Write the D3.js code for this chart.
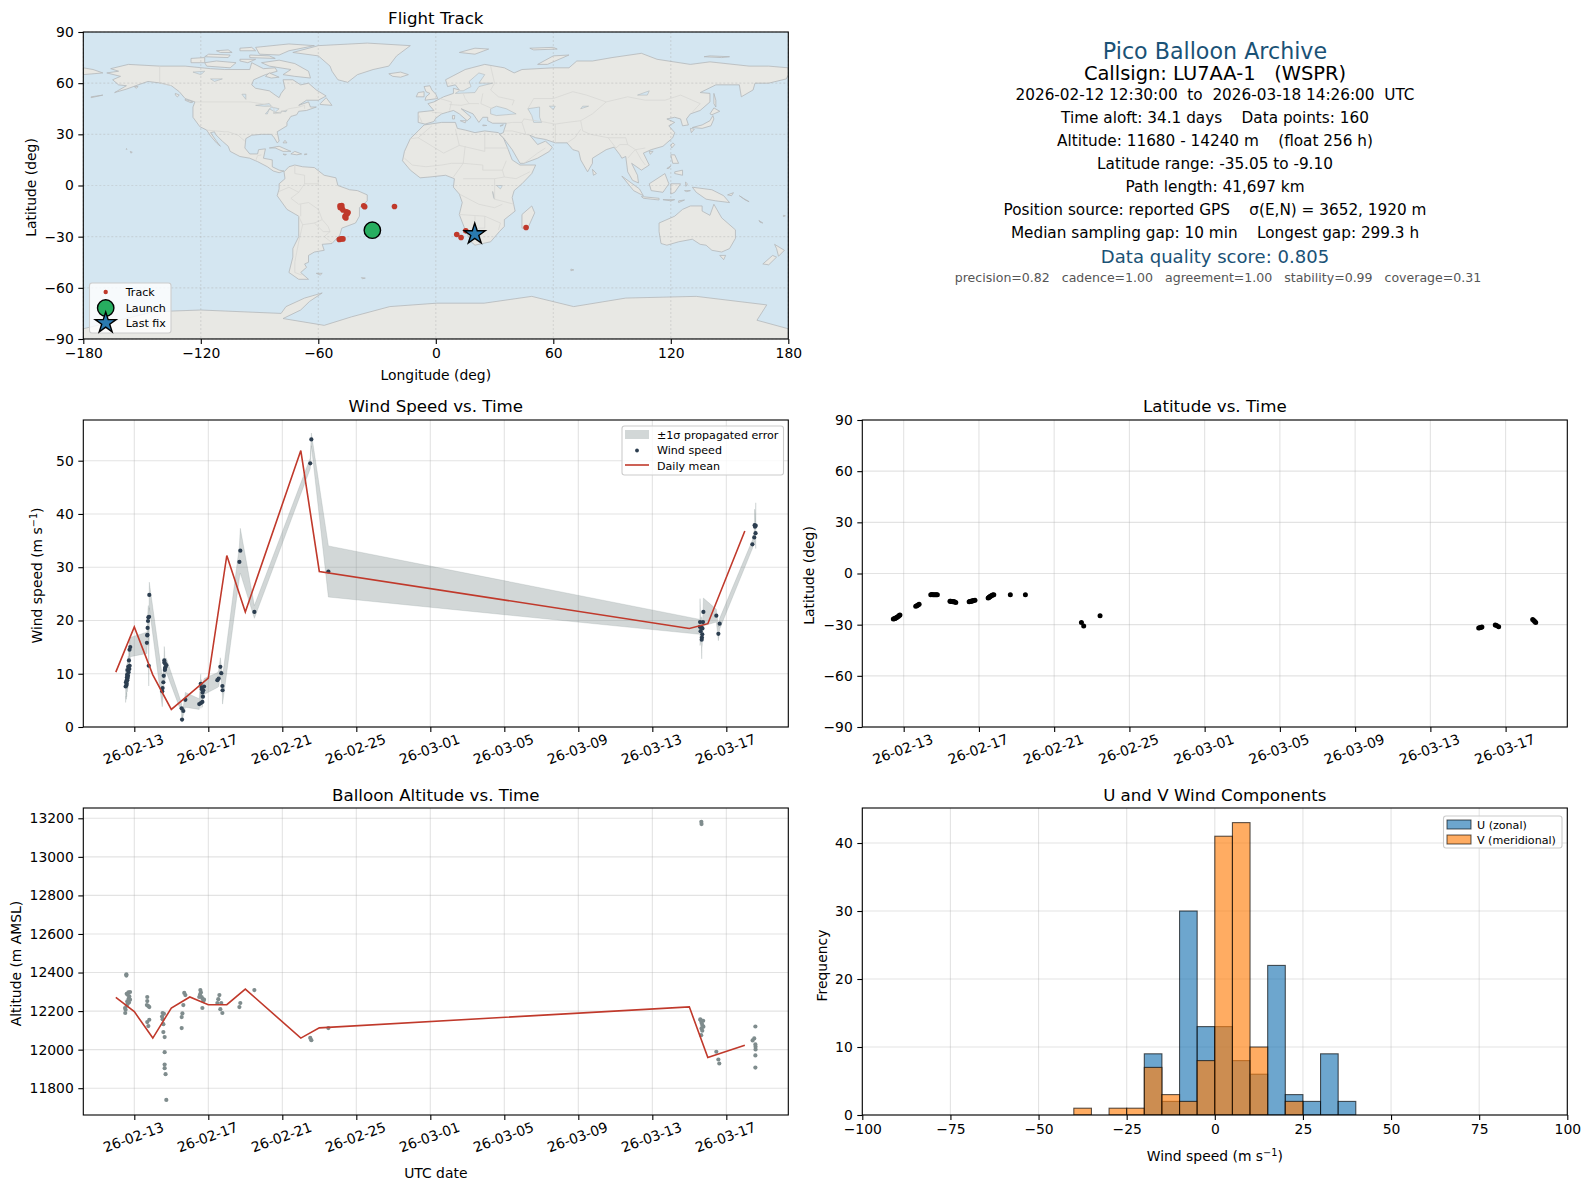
<!DOCTYPE html>
<html><head><meta charset="utf-8">
<script src="https://cdn.jsdelivr.net/npm/d3@7"></script>
<style>html,body{margin:0;padding:0;background:#fff}svg{display:block}text{font-family:"DejaVu Sans",sans-serif;fill:#000}</style>
</head><body><div id="chart"></div>
<script>
// ---------- data ----------
const windDay=[-0.47,-0.45,-0.43,-0.42,-0.41,-0.40,-0.39,-0.38,-0.37,-0.36,-0.34,-0.33,-0.31,-0.29,-0.27,-0.26,-0.25,-0.22,
0.68,0.70,0.71,0.72,0.74,0.76,0.78,0.80,0.81,
1.51,1.53,1.57,1.59,1.62,1.63,1.64,1.65,1.66,1.68,1.73,
2.56,2.58,2.65,2.76,
3.51,3.59,3.60,3.64,3.65,3.68,3.69,3.71,3.73,3.77,
4.49,4.56,4.65,4.70,4.76,4.77,
5.68,5.73,6.49,9.51,9.57,10.49,
30.57,30.58,30.61,30.65,30.67,30.68,30.70,30.71,30.74,30.76,31.46,31.57,31.64,
33.41,33.51,33.53,33.55,33.58,33.59];
const windSpeed=[7.6,8.4,7.8,8.7,8.1,9.3,9.8,8.8,10.7,9.2,9.6,11.3,10.3,12.5,10.9,14.5,11.5,15.0,
15.8,17.2,17.3,18.6,19.9,20.6,11.5,20.7,24.8,
6.7,7.3,8.4,9.6,12.5,12.1,12.0,10.7,10.9,11.2,11.6,
3.5,1.4,3.0,5.1,
4.3,8.1,4.5,7.4,7.1,4.7,6.5,5.7,6.9,7.6,
8.8,9.1,11.3,10.1,7.7,6.9,
31.0,33.1,21.6,49.5,54.0,29.2,
18.8,19.7,18.0,18.7,16.4,16.8,17.4,18.5,19.7,21.6,20.9,17.5,19.4,
34.3,35.6,37.9,37.6,36.4,37.8];
const windSigma=[3,2.6,2.6,2.2,2.4,2,2,2.2,2,2,2,2,2,2,1.8,1.8,1.8,1.8,
2,2,2,2,2,2.2,3.8,2.5,2.4,
2.9,2.5,2,2,2.6,2.4,2.2,2,1.8,1.6,1.3,
0.9,0.5,0.8,1.4,
1,1.8,1,1.5,1.4,1,1.3,1.2,1.5,1.5,
1.4,1.5,1.7,1.5,2,2.6,
3,4.2,1.2,1,1.2,4.8,
1.4,4.4,2,2,3.6,2,2,1.5,1.5,2.6,1.2,1.3,1,
0.8,1,3,3,2,4.3];
const meanDay=[-1,0,1,2,3,4,5,6,9,10,30,31,33];
const meanSpeed=[10.3,18.8,9.8,3.3,6.2,9.2,32.2,21.6,51.9,29.2,18.5,19.4,36.8];
const meanAlt=[12271,12197,12060,12216,12273,12233,12233,12314,12060,12113,12222,11959,12023];
const altDay=[-0.43,-0.43,-0.41,-0.23,-0.32,-0.36,-0.27,-0.31,-0.23,-0.38,-0.29,-0.36,-0.41,-0.47,-0.49,-0.50,
0.70,0.70,0.68,0.76,0.81,0.81,0.70,0.76,
1.53,1.60,1.50,1.53,1.57,1.57,1.64,1.64,1.64,1.64,1.69,1.73,
2.56,2.56,2.60,2.65,2.70,2.76,
3.57,3.60,3.51,3.64,3.69,3.73,3.68,3.55,3.77,
4.60,4.54,4.49,4.70,4.65,4.76,
5.68,5.73,6.49,9.51,9.57,10.49,
30.65,30.66,30.59,30.75,30.66,30.76,30.66,30.70,30.64,30.62,30.70,
31.46,31.57,31.62,
33.57,33.51,33.42,33.57,33.58,33.58,33.57,33.57];
const altMeters=[12391,12384,12290,12299,12297,12285,12276,12264,12259,12250,12245,12238,12228,12207,12190,12216,
12273,12252,12231,12226,12221,12155,12143,12122,
12190,12186,12172,12158,12132,12091,12065,11987,11923,11904,11873,11739,
12112,12169,12188,12231,12294,12283,
12309,12297,12273,12273,12264,12252,12216,12285,12259,
12283,12262,12242,12242,12210,12190,
12221,12242,12309,12061,12049,12112,
13182,13170,12157,12150,12139,12119,12110,12098,12075,12153,12128,
11989,11949,11928,
12120,12058,12048,12027,12015,12001,11970,11907];
const latDay=[-0.55,-0.50,-0.46,-0.42,-0.38,-0.33,-0.28,-0.24,-0.20, 0.64,0.70,0.76,0.82,
1.44,1.50,1.56,1.62,1.68,1.74,1.79, 2.46,2.50,2.54,2.58,2.62,2.66,2.70,2.77, 3.48,3.52,3.56,3.60,3.64,3.68,3.72,3.79,
4.49,4.53,4.56,4.60,4.63,4.70,4.74,4.79, 5.67,6.47,9.45,9.57,10.44,
30.57,30.62,30.68,30.74, 31.45,31.52,31.63, 33.44,33.50,33.55,33.60];
const latDeg=[-26.7,-26.5,-26.4,-26.1,-25.8,-25.5,-25.0,-24.6,-24.3, -19.2,-18.9,-18.4,-18.0,
-12.5,-12.3,-12.4,-12.4,-12.5,-12.4,-12.5, -16.3,-16.3,-16.4,-16.4,-16.5,-16.6,-16.6,-17.0, -16.5,-16.4,-16.3,-16.2,-16.1,-16.0,-15.9,-15.7,
-14.3,-14.0,-13.8,-13.5,-13.2,-12.8,-12.6,-12.4, -12.4,-12.4,-28.8,-30.8,-24.7,
-32.0,-31.8,-31.6,-31.4, -30.2,-30.5,-31.2, -27.0,-27.6,-28.2,-28.8];
const trackLon=[-48.9,-48.5,-48.0,-48.8,-47.9,-47.4,-45.6,-44.8,-45.2,-46.4,-46.1,-45.9,-36.8,-36.3,-21.1,-49.3,-48.8,-48.0,-47.4,10.7,12.9,15.3,46.1];
const trackLat=[-11.9,-12.3,-11.8,-13.0,-13.3,-14.4,-15.4,-15.9,-16.6,-18.4,-17.6,-19.0,-11.9,-12.5,-12.3,-31.7,-31.4,-31.2,-31.3,-28.7,-30.5,-26.6,-24.6];
const launchLon=[-32.4], launchLat=[-26.2], lastLon=[19.9], lastLat=[-28.5];
const binLow=[-40,-35,-30,-25,-20,-15,-10,-5,0,5,10,15,20,25,30,35];
const uCount=[0,0,0,0,9,2,30,13,13,8,6,22,3,2,9,2];
const vCount=[1,0,1,1,7,3,2,8,41,43,10,0,2,0,0,0];
const timeTicks=["2026-02-13","2026-02-17","2026-02-21","2026-02-25","2026-03-01","2026-03-05","2026-03-09","2026-03-13","2026-03-17"];
const lonTicks=[-180,-120,-60,0,60,120,180], latTicks=[-90,-60,-30,0,30,60,90];
const windTicks=[0,10,20,30,40,50], altTicks=[11800,12000,12200,12400,12600,12800,13000,13200];
const histXTicks=[-100,-75,-50,-25,0,25,50,75,100], histYTicks=[0,10,20,30,40];
const infoLines=[
 ["Pico Balloon Archive",58.7,22.2,"#1a5276",1215],["Callsign: LU7AA-1   (WSPR)",80,19.44,"#000",1215],
 ["2026-02-12 12:30:00  to  2026-03-18 14:26:00  UTC",100,15.28,"#000",1215],
 ["Time aloft: 34.1 days    Data points: 160",123,15.28,"#000",1215],
 ["Altitude: 11680 - 14240 m    (float 256 h)",145.7,15.28,"#000",1215],
 ["Latitude range: -35.05 to -9.10",168.7,15.28,"#000",1215],
 ["Path length: 41,697 km",191.7,15.28,"#000",1215],
 ["Position source: reported GPS    σ(E,N) = 3652, 1920 m",215,15.28,"#000",1215],
 ["Median sampling gap: 10 min    Longest gap: 299.3 h",238,15.28,"#000",1215],
 ["Data quality score: 0.805",262.7,18.06,"#1a5276",1215],
 ["precision=0.82   cadence=1.00   agreement=1.00   stability=0.99   coverage=0.31",282.3,12.55,"#555",1218]];
const land=[
[[-168,66],[-162,67],[-166,68.5],[-157,71],[-141,70],[-128,70],[-115,68.5],[-108,68],[-95,68],[-94,72],[-88,68.5],[-82,69],[-81,67],[-87,65],[-93,62],[-94,59],[-92,57],[-85,55.5],[-82,53],[-80,51.5],[-79,54],[-77,57],[-78,62],[-73,62],[-69,59],[-65,60],[-61,56],[-56,52.5],[-60,50],[-66,50],[-70,47],[-65,49],[-64,46],[-61,46],[-66,44],[-70,43.5],[-71,41.5],[-74,40.5],[-76,37],[-76,35],[-81,31.5],[-80,26],[-81,25],[-82.5,28],[-84,30],[-89,30],[-94,29.5],[-97,27.5],[-97.5,22],[-95,18.5],[-91,18.5],[-90.5,21],[-87,21.5],[-88,16],[-83.5,15],[-83.5,11],[-80,9],[-77.5,8.5],[-80,7.5],[-83,8.5],[-86,11],[-91,14],[-95,16],[-100,17],[-105,20],[-106,23],[-109,26],[-112.5,30],[-113,31.5],[-115,31],[-112,26],[-110,23],[-112,25],[-115,29],[-117,32.5],[-120.5,34.5],[-124,40],[-124,46],[-123,49],[-128,51],[-131,55],[-135,58.5],[-140,60],[-147,61],[-152,59],[-158,56.5],[-164,54.5],[-158,58.5],[-162,59],[-165,62],[-161,64]],
[[-73,78],[-60,82],[-35,83.5],[-13,82],[-20,76],[-24,70],[-32,68],[-40,65],[-45,60.5],[-50,62],[-53,67],[-54,70],[-60,76]],
[[-80,73.5],[-72,71.5],[-65,67],[-64,63],[-72,64],[-78,65],[-74,68],[-85,70],[-89,72]],
[[-117,70],[-105,69],[-102,72],[-112,73],[-118,72]],[[-90,77],[-80,76.5],[-75,79],[-62,82],[-75,83],[-92,81]],
[[-125,72],[-118,72],[-118,75],[-125,74.5]],[[-95,75],[-82,74.5],[-85,76],[-95,76.5]],[[-118,75.5],[-106,75],[-105,76.5],[-116,77]],[[-100,73],[-96,72],[-92,74],[-100,74]],
[[-100,79],[-92,79],[-94,81],[-100,80.5]],[[-110,78],[-104,78],[-106,79.5],[-112,79]],[[-85,66],[-80,63.5],[-84,63],[-87,64]],[[-133,54],[-131,53],[-132,52],[-133,53]],[[-128,50.5],[-124,49],[-125,48.5],[-128,50]],
[[-59,48],[-56,51.5],[-53,47],[-59,47.5]],[[-24,65.5],[-18,66.5],[-14,65],[-18,63.5],[-22,64]],
[[-5.5,50],[1,51],[0,53.5],[-2,56],[-3,58.5],[-6,58],[-5,55],[-3,54],[-5,52]],[[-10,52],[-6,52],[-6,55],[-9,54.5]],
[[12,78],[20,80.5],[27,80],[20,77]],[[48,80.5],[60,81],[62,80],[50,79.5]],[[52,71],[57,71],[68,76.5],[60,76]],[[137,75.5],[146,75],[150,75.5],[140,76]],
[[-85,22],[-80,23],[-74,20],[-78,20],[-82,22]],[[-74,18.5],[-72,20],[-68.5,18.5],[-71,18]],[[-78,18.4],[-76.3,18.2],[-77,17.8]],[[-67,18.5],[-65.7,18.4],[-67,18]],[[-78,25],[-77,26.5],[-76,25]],
[[-156,20],[-155,19.5],[-155.7,19]],[[-158,21.6],[-157.6,21.2],[-158.2,21.3]],[[-176,52],[-170,53],[-176,51.5]],[[-154,58],[-152,58],[-153,57]],
[[-72,12],[-68,11],[-62,10.5],[-57,6],[-51,4.5],[-50,0],[-44,-2.5],[-40,-3],[-35,-5.5],[-35,-9],[-39,-13],[-39,-18],[-41,-22],[-48,-25],[-49,-29],[-53,-34],[-58,-34.5],[-57,-38],[-62,-39],[-65,-41],[-65,-45],[-67,-46],[-66,-48],[-69,-51],[-65,-55],[-70,-55],[-75,-51],[-73,-42],[-73,-37],[-70,-30],[-70,-18],[-76,-14],[-81,-6],[-80,-2],[-80,1],[-77,4],[-77.5,8],[-75,11]],
[[-6,35.5],[3,37],[10,37],[11,33.5],[15,32.5],[20,31],[25,32],[32,31],[34.5,28],[37,21],[39,15],[43,12],[51,12],[49,7],[44,1],[40,-3],[39,-7],[40.5,-15],[35,-20],[35,-24],[32.5,-27],[28,-33],[20,-35],[18,-33],[15,-26],[12,-17],[13.5,-10],[12,-5],[9,-1],[9.5,4],[5,6],[-3,5],[-8,4.5],[-13,9],[-17,14.5],[-16,20],[-13,27.5],[-9,32]],
[[49,-12],[50.5,-16],[47,-25],[44,-25],[44,-17]],
[[-9,37],[-5.5,36],[-1,37.5],[0,39.5],[3,42],[6,43],[9,44],[12,42],[16,38],[18,40],[13,45],[19,42],[22,37],[24,40],[26.5,40],[26.5,38],[29,36.5],[36,36.5],[35,33],[34.5,31],[32.5,30],[34.5,28],[39,21],[43,13],[45,13],[52,16],[58,20],[59.5,22.5],[56,26],[52,24],[48,29.5],[51,28],[56,27],[61,25],[67,25],[70,21],[73,20],[74,15],[77.5,8],[80,13],[80,16],[87,21],[91,22.5],[94,18],[95,16],[97,17],[98,8],[100.5,3],[103.5,1.5],[103,6],[100,13],[105,9],[109,12],[106,19],[110,21],[116,23],[121,28],[122,31],[119,35],[122,37],[118,39],[122,40],[125,39],[126,35],[129,35.5],[128,39],[130,42],[135,44],[140,49],[140,54],[135,54.5],[143,59],[155,59],[156,52],[162,56],[163,60],[170,60],[179,62.5],[180,65],[180,69],[170,70],[160,70],[140,72.5],[130,71],[113,74],[105,77.5],[90,75],[80,73],[72,73],[68,69],[60,69],[44,68],[40,66],[35,69],[25,71],[15,68],[5,62],[6,58],[10,59],[12,56],[9,57],[9,54],[4,52],[-1,49],[-4,48],[-1,44],[-9,43]],
[[-180,65],[-170,66],[-175,68],[-180,69]],[[8.5,41],[9.7,41],[9.5,39],[8.5,39]],[[12.5,38],[15.5,38],[15,36.7]],[[24,35.5],[26,35.2],[24,35]],[[33,35.2],[34.5,35.6],[33,34.7]],
[[95,5.5],[104,-2],[106,-6],[101,-3]],[[105,-6.5],[114,-7.5],[114,-8.5],[106,-7.5]],[[109,1],[117,7],[119,1],[116,-4],[110,-3]],[[120,1],[125,1],[122,-4],[120,-5]],
[[116,-8.3],[122,-8.3],[120,-9]],[[124,-9],[127,-8.5],[124,-10]],[[127.5,2],[128.5,1],[127.7,-0.5]],[[127,-3],[130,-3],[128,-3.6]],
[[131,-1],[141,-2.5],[147,-6],[150,-10],[143,-9],[138,-8],[133,-4]],[[149,-5.5],[152,-4.2],[151,-6]],[[155,-6],[157,-7.5],[160,-9.5],[158,-8.5]],[[165,-20.5],[167,-22],[165.5,-21.5]],[[177.5,-17.5],[178.5,-17.8],[177.5,-18.2]],
[[120,18],[122,18],[124,13],[121,13]],[[122,8],[126,9],[126,6],[122,7]],[[118,10],[120,11.5],[119,10]],[[80,9.5],[82,7],[80.5,6]],[[121,25],[122,24],[120.5,22],[120,23.5]],[[109,20],[111,20],[109.5,18.3]],
[[131,34],[136,35.5],[140,38],[141.5,41],[142,39],[140.5,35],[136,33.5]],[[130,33.5],[132,33],[130.5,31]],[[140,42],[142,45.5],[145,43.5],[141,41.5]],[[142,54],[143,50],[143,46],[142,48]],
[[114,-22],[122,-18],[126,-14],[130,-12],[136,-12],[136,-15],[140,-17.5],[142,-11],[146,-19],[153,-26],[153,-31],[150,-37],[146,-39],[141,-38],[138,-35],[135,-34.5],[131,-31.5],[124,-33],[118,-35],[115,-34],[114,-27]],
[[145,-41],[148,-41],[147,-43.5]],[[173,-34.5],[178,-38],[175,-41.5],[174,-37]],[[172,-41],[174,-42],[170,-46.5],[167,-46]],[[-61,-51.5],[-58,-51.5],[-59,-52.5]],[[69,-49],[70.5,-49.5],[69,-50]],[[-38,-54],[-36,-54.3],[-37.5,-54.7]],
[[-180,-84],[-144,-74],[-120,-73],[-79,-75],[-76.5,-71],[-67,-66],[-58,-63],[-64.5,-68],[-69,-73],[-78,-78],[-57,-82],[-43,-77],[-23.5,-71],[0.5,-69],[24.7,-69],[49,-65],[70.4,-71],[97,-66],[133,-65],[169,-70],[164,-79],[180,-84],[180,-90],[-180,-90]]];
const seas=[[[28,42],[28,45],[31,46.5],[36,45],[41,42],[36,41.5],[31,41]],[[47,45],[53,46],[53,40],[54,37],[50,37],[49,41]],[[10,54],[20,54.5],[22,58],[29,60],[22,60],[25,65],[22,66],[17,61],[18,58],[14,55.5],[12,55.5]],[[-92,47],[-85,48],[-84,46.5],[-88,46.5]],[[-87,42],[-84,46],[-80,45],[-82,43],[-85,45],[-86,42]],[[-83,42.5],[-79,43],[-79,42.5]],[[-79,43.5],[-76,44],[-76.5,43.3]],[[-124,66.5],[-118,67],[-120,65]],[[-115,62.5],[-109,62.5],[-113,61]],[[-99,53.5],[-97,53.5],[-97,50.5]],[[58,46.5],[61,46.5],[60,44.5]],[[75,46.5],[78,46.5],[74,45]],[[103,53],[109,55.5],[108,53]],[[31,0],[34,0],[33,-2]],[[29,-3.5],[30,-8],[29.5,-7]]];
const borders=[[[-123,49],[-95,49],[-89,48],[-83,46],[-82,42],[-79,43],[-75,45],[-70,46],[-67,47],[-67,45]],[[-141,70],[-141,60],[-135,58.5]],[[-117,32.5],[-108,31.5],[-106,31.5],[-101,29.5],[-97.5,26]],[[-92,14.5],[-91,17.5],[-89,18]],
[[-72,12],[-72,7],[-67,6],[-67,1]],[[-60,5],[-60,1],[-67,1],[-70,-4],[-74,-7.5],[-70,-11],[-65,-10],[-60,-14],[-58,-20],[-55,-24],[-54,-27],[-57,-30],[-53,-33.5]],[[-80,-3.5],[-75,-1],[-70,-4]],[[-70,-18],[-68,-23],[-70,-33],[-72,-45],[-72,-51],[-68.5,-52.5]],[[-69,-11],[-69,-18]],[[-68,-23],[-62,-22],[-58,-20]],[[-62,-22],[-57.5,-27],[-54,-27]],
[[-2,35],[-9,28],[-13,27.5]],[[-9,28],[4,19],[12,23.5],[10,33]],[[12,23.5],[25,20],[25,31.5]],[[25,22],[37,22]],[[15,23],[14,13],[8,13],[3,12],[-5,11],[-12,12],[-16,16]],[[14,13],[24,12],[24,9],[34,9],[36,14.5]],[[34,9],[35,5],[41,4],[48,8]],[[14,13],[9,5]],[[14,4],[30,4],[35,5]],[[30,4],[30,-8],[40,-11]],[[12,-5],[22,-11],[30,-13],[34,-11]],[[12,-17],[25,-18],[33,-22],[32,-26]],[[20,-18],[20,-29],[17,-29]],[[25,-18],[25,-25],[20,-25]],
[[-9,42],[-7,37]],[[-2,43],[3,42.5]],[[2,51],[8,49],[7,44]],[[14,54],[15,51],[17,48],[13,47],[7,47.5]],[[24,54],[23,48],[29,45]],[[17,48],[22,48]],[[28,70],[30,60],[28,56],[32,52],[40,50],[39,47]],[[47,45],[50,51],[60,51],[70,55],[77,53],[87,49]],[[87,49],[98,52],[107,50],[117,50],[125,53],[135,48],[131,43]],[[87,49],[80,42],[74,38],[75,32],[79,30],[88,28],[97,28],[98,24],[102,21],[107,22]],[[61,36],[54,37.5],[45,39],[44,37],[39,37],[36,36.5]],[[61,25],[61,36],[67,37],[74,38]],[[67,25],[71,28],[74,33]],[[44,37],[46,30],[48,29.5]],[[39,32],[35,32]],[[39,32],[46,30]],[[88,28],[92,22],[94,24],[98,24]],[[98,16],[101,20],[102,21],[105,15],[107,12]],[[45,13],[52,19],[56,22]]];

// ---------- layout ----------
const W=1589,H=1189;
const cols=[[83.3,788.3],[862.3,1567.3]], rows=[[32,339],[420,727],[808,1115]];
const TICK=13.9, TITLE=16.67, LABEL=13.9, LEG=11.1;
const grid={stroke:"#b0b0b0",op:0.35};
const svg=d3.select("#chart").append("svg").attr("width",W).attr("height",H).attr("viewBox",`0 0 ${W} ${H}`);
const defs=svg.append("defs");
const toDate=d=>new Date(Date.UTC(2026,1,13)+d*864e5);

function frame(c,r,name){
  const [x0,x1]=cols[c],[y0,y1]=rows[r];
  defs.append("clipPath").attr("id","clip"+name).append("rect").attr("x",x0).attr("y",y0).attr("width",x1-x0).attr("height",y1-y0);
  const g=svg.append("g");
  return {x0,x1,y0,y1,g,cx:(x0+x1)/2,
    back:g.append("g").attr("clip-path",`url(#clip${name})`),grid:g.append("g"),marks:g.append("g").attr("clip-path",`url(#clip${name})`),axes:g.append("g")};
}
function gridlines(f,x,xt,y,yt,dash){
  const s=f.grid;
  s.selectAll("line.gx").data(xt).join("line").attr("class","gx").attr("x1",d=>x(d)).attr("x2",d=>x(d)).attr("y1",f.y0).attr("y2",f.y1);
  s.selectAll("line.gy").data(yt).join("line").attr("class","gy").attr("y1",d=>y(d)).attr("y2",d=>y(d)).attr("x1",f.x0).attr("x2",f.x1);
  s.selectAll("line").attr("stroke",grid.stroke).attr("stroke-opacity",grid.op).attr("stroke-width",1.1).attr("stroke-dasharray",dash||null);
}
function axes(f,x,xt,y,yt,xfmt,rot){
  const ax=f.axes;
  const gx=ax.append("g").attr("transform",`translate(0,${f.y1})`).call(d3.axisBottom(x).tickValues(xt).tickSize(5).tickPadding(4.5).tickFormat(xfmt||null));
  const gy=ax.append("g").attr("transform",`translate(${f.x0},0)`).call(d3.axisLeft(y).tickValues(yt).tickSize(5).tickPadding(4.5).tickFormat(d3.format("d")));
  ax.selectAll(".domain").remove();
  ax.selectAll(".tick line").attr("stroke","#000").attr("stroke-width",1.1);
  ax.selectAll(".tick text").style("font-size",TICK+"px").style("font-family",'"DejaVu Sans"').attr("fill","#000");
  if(rot){ gx.selectAll(".tick text").attr("text-anchor","middle").attr("dy",null).attr("y",null)
      .attr("transform","translate(-1,23) rotate(-20)").attr("dominant-baseline","middle"); }
  ax.append("rect").attr("x",f.x0).attr("y",f.y0).attr("width",f.x1-f.x0).attr("height",f.y1-f.y0).attr("fill","none").attr("stroke","#000").attr("stroke-width",1.1);
}
function txt(sel,x,y,s,size,o={}){
  return sel.append("text").attr("x",x).attr("y",y).attr("text-anchor",o.anchor||"middle").style("font-size",size+"px").style("fill",o.fill||"#000").text(s);
}
function title(f,s,y){ txt(f.axes,f.cx,y,s,TITLE); }
function ylab(f,x,s,sup,dy){
  const t=f.axes.append("text").attr("transform",`translate(${x},${(f.y0+f.y1)/2+(dy||2)}) rotate(-90)`).attr("text-anchor","middle").style("font-size",LABEL+"px");
  if(sup){t.append("tspan").text(s);t.append("tspan").attr("dy",-5).style("font-size","9.7px").text(sup);t.append("tspan").attr("dy",5).text(")");}
  else t.text(s);
}
function xlab(f,y,s,sup){
  const t=f.axes.append("text").attr("x",f.cx).attr("y",y).attr("text-anchor","middle").style("font-size",LABEL+"px");
  if(sup){t.append("tspan").text(s);t.append("tspan").attr("dy",-5).style("font-size","9.7px").text(sup);t.append("tspan").attr("dy",5).text(")");}
  else t.text(s);
}
function legendBox(f,x,y,w,h){
  f.axes.append("rect").attr("x",x).attr("y",y).attr("width",w).attr("height",h).attr("rx",2.5).attr("fill","#fff").attr("fill-opacity",0.8).attr("stroke","#ccc").attr("stroke-width",1.1);
}
const timeDates=timeTicks.map(s=>new Date(s+"T00:00:00Z"));
const fmtT=d3.utcFormat("%y-%m-%d");
const RED="#c0392b";

// ---------- map ----------
{
  const f=frame(0,0,"map");
  const x=d3.scaleLinear().domain([-180,180]).range([f.x0,f.x1]);
  const y=d3.scaleLinear().domain([-90,90]).range([f.y1,f.y0]);
  const path=d3.line().x(d=>x(d[0])).y(d=>y(d[1]));
  const closed=d=>path(d)+"Z";
  f.back.append("rect").attr("x",f.x0).attr("y",f.y0).attr("width",f.x1-f.x0).attr("height",f.y1-f.y0).attr("fill","#d4e6f1");
  f.back.append("g").selectAll("path").data(land).join("path").attr("d",closed).attr("fill","#e8e8e4").attr("stroke","#b4b8ba").attr("stroke-width",0.8);
  f.back.append("g").selectAll("path").data(seas).join("path").attr("d",closed).attr("fill","#d4e6f1").attr("stroke","#b4b8ba").attr("stroke-width",0.6);
  f.back.append("g").selectAll("path").data(borders).join("path").attr("d",path).attr("fill","none").attr("stroke","#d6d6d2").attr("stroke-width",0.7);
  gridlines(f,x,lonTicks,y,latTicks,"2,2");
  f.marks.selectAll("circle.t").data(trackLon).join("circle").attr("class","t").attr("cx",d=>x(d)).attr("cy",(d,i)=>y(trackLat[i])).attr("r",2.8).attr("fill",RED);
  f.marks.selectAll("circle.l").data(launchLon).join("circle").attr("class","l").attr("cx",d=>x(d)).attr("cy",(d,i)=>y(launchLat[i])).attr("r",8.2).attr("fill","#27ae60").attr("stroke","#000").attr("stroke-width",1.4);
  const star=d3.symbol(d3.symbolStar).size(136)();
  f.marks.selectAll("path.s").data(lastLon).join("path").attr("class","s").attr("d",star).attr("transform",(d,i)=>`translate(${x(d)},${y(lastLat[i])})`).attr("fill","#2a7ab0").attr("stroke","#000").attr("stroke-width",1.4);
  axes(f,x,lonTicks,y,latTicks);
  title(f,"Flight Track",23.5); xlab(f,380,"Longitude (deg)"); ylab(f,35.5,"Latitude (deg)");
  legendBox(f,89.5,283,81.5,50);
  const a=f.axes;
  a.append("circle").attr("cx",105.7).attr("cy",292).attr("r",2.2).attr("fill",RED);
  a.append("circle").attr("cx",105.7).attr("cy",308).attr("r",8.2).attr("fill","#27ae60").attr("stroke","#000").attr("stroke-width",1.4);
  a.append("path").attr("d",star).attr("transform","translate(105.7,323)").attr("fill","#2a7ab0").attr("stroke","#000").attr("stroke-width",1.4);
  txt(a,125.7,296,"Track",LEG,{anchor:"start"}); txt(a,125.7,312,"Launch",LEG,{anchor:"start"}); txt(a,125.7,327,"Last fix",LEG,{anchor:"start"});
}
// ---------- info ----------
{
  const g=svg.append("g");
  g.selectAll("text").data(infoLines).join("text").attr("x",d=>d[4]).attr("y",d=>d[1]).attr("text-anchor","middle").attr("xml:space","preserve")
   .style("white-space","pre").style("font-size",d=>d[2]+"px").style("fill",d=>d[3]).text(d=>d[0]);
}
const xWindDom=[toDate(-2.757),toDate(35.35)];
// ---------- wind ----------
{
  const f=frame(0,1,"wind");
  const x=d3.scaleUtc().domain(xWindDom).range([f.x0,f.x1]);
  const y=d3.scaleLinear().domain([0,57.64]).range([f.y1,f.y0]);
  gridlines(f,x,timeDates,y,windTicks);
  const area=d3.area().x((d,i)=>x(toDate(d))).y0((d,i)=>y(Math.max(0,windSpeed[i]-windSigma[i]))).y1((d,i)=>y(windSpeed[i]+windSigma[i]));
  f.marks.append("path").attr("d",area(windDay)).attr("fill","#7f8c8d").attr("fill-opacity",0.35).attr("stroke","#7f8c8d").attr("stroke-opacity",0.2);
  f.marks.selectAll("circle").data(windDay).join("circle").attr("cx",d=>x(toDate(d))).attr("cy",(d,i)=>y(windSpeed[i])).attr("r",2.1).attr("fill","#2c3e50");
  const ln=d3.line().x((d,i)=>x(toDate(d))).y((d,i)=>y(meanSpeed[i]));
  f.marks.append("path").attr("d",ln(meanDay)).attr("fill","none").attr("stroke",RED).attr("stroke-width",1.6);
  axes(f,x,timeDates,y,windTicks,fmtT,true);
  title(f,"Wind Speed vs. Time",411.5); ylab(f,41.5,"Wind speed (m s","−1");
  legendBox(f,622,426,161.5,49);
  const a=f.axes;
  a.append("rect").attr("x",625).attr("y",430).attr("width",24).attr("height",9).attr("fill","#7f8c8d").attr("fill-opacity",0.35);
  a.append("circle").attr("cx",637).attr("cy",450.5).attr("r",1.9).attr("fill","#2c3e50");
  a.append("line").attr("x1",625).attr("x2",649).attr("y1",465).attr("y2",465).attr("stroke",RED).attr("stroke-width",1.6);
  txt(a,657,439,"±1σ propagated error",LEG,{anchor:"start"}); txt(a,657,454,"Wind speed",LEG,{anchor:"start"}); txt(a,657,470,"Daily mean",LEG,{anchor:"start"});
}
// ---------- latitude ----------
{
  const f=frame(1,1,"lat");
  const x=d3.scaleUtc().domain([toDate(-2.2),toDate(35.28)]).range([f.x0,f.x1]);
  const y=d3.scaleLinear().domain([-90,90]).range([f.y1,f.y0]);
  gridlines(f,x,timeDates,y,latTicks);
  f.marks.selectAll("circle").data(latDay).join("circle").attr("cx",d=>x(toDate(d))).attr("cy",(d,i)=>y(latDeg[i])).attr("r",2.5).attr("fill","#000");
  axes(f,x,timeDates,y,latTicks,fmtT,true);
  title(f,"Latitude vs. Time",411.5); ylab(f,813.5,"Latitude (deg)");
}
// ---------- altitude ----------
{
  const f=frame(0,2,"alt");
  const x=d3.scaleUtc().domain(xWindDom).range([f.x0,f.x1]);
  const y=d3.scaleLinear().domain([11661,13253.4]).range([f.y1,f.y0]);
  gridlines(f,x,timeDates,y,altTicks);
  f.marks.selectAll("circle").data(altDay).join("circle").attr("cx",d=>x(toDate(d))).attr("cy",(d,i)=>y(altMeters[i])).attr("r",2.1).attr("fill","#7f8c8d");
  const ln=d3.line().x(d=>x(toDate(d))).y((d,i)=>y(meanAlt[i]));
  f.marks.append("path").attr("d",ln(meanDay)).attr("fill","none").attr("stroke",RED).attr("stroke-width",1.6);
  axes(f,x,timeDates,y,altTicks,fmtT,true);
  title(f,"Balloon Altitude vs. Time",800.5); xlab(f,1178,"UTC date"); ylab(f,20.5,"Altitude (m AMSL)");
}
// ---------- histogram ----------
{
  const f=frame(1,2,"hist");
  const x=d3.scaleLinear().domain([-100,100]).range([f.x0,f.x1]);
  const y=d3.scaleLinear().domain([0,45.15]).range([f.y1,f.y0]);
  gridlines(f,x,histXTicks,y,histYTicks);
  const bars=(cnt,col)=>f.marks.append("g").selectAll("rect").data(binLow).join("rect")
    .attr("x",d=>x(d)).attr("width",d=>x(d+5)-x(d)).attr("y",(d,i)=>y(cnt[i])).attr("height",(d,i)=>f.y1-y(cnt[i]))
    .attr("display",(d,i)=>cnt[i]?null:"none").attr("fill",col).attr("fill-opacity",0.65).attr("stroke","#000").attr("stroke-opacity",0.65).attr("stroke-width",1.1);
  bars(uCount,"#1f77b4"); bars(vCount,"#ff7f0e");
  axes(f,x,histXTicks,y,histYTicks);
  title(f,"U and V Wind Components",800.5); xlab(f,1161,"Wind speed (m s","−1"); ylab(f,826.5,"Frequency",null,4);
  legendBox(f,1443.5,816,118.5,32);
  const a=f.axes;
  a.append("rect").attr("x",1447).attr("y",820).attr("width",24).attr("height",9).attr("fill","#1f77b4").attr("fill-opacity",0.65).attr("stroke","#000").attr("stroke-opacity",.65);
  a.append("rect").attr("x",1447).attr("y",835).attr("width",24).attr("height",9).attr("fill","#ff7f0e").attr("fill-opacity",0.65).attr("stroke","#000").attr("stroke-opacity",.65);
  txt(a,1477,829,"U (zonal)",LEG,{anchor:"start"}); txt(a,1477,844,"V (meridional)",LEG,{anchor:"start"});
}
</script></body></html>
